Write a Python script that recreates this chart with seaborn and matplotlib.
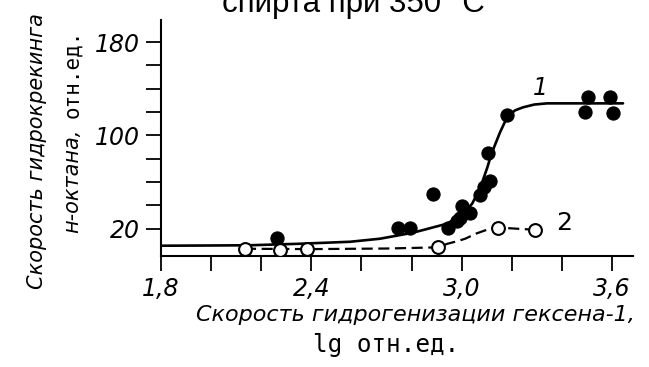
import matplotlib
matplotlib.use('Agg')
import matplotlib.pyplot as plt
import seaborn as sns

# curve 1: smooth line drawn through the filled points
curve1_x = [1.80, 2.00, 2.155, 2.355, 2.555, 2.674, 2.806, 2.942, 3.006, 3.042,
            3.073, 3.101, 3.121, 3.153, 3.181, 3.213, 3.245, 3.29, 3.341, 3.473, 3.644]
curve1_y = [5.4, 5.6, 5.8, 7.1, 8.8, 11.4, 16.6, 24.3, 32.9, 41.5,
            54.4, 71.6, 85.4, 102.6, 115.5, 121.5, 124.1, 126.5, 127.5, 127.5, 127.5]
# filled points of series 1
points1_x = [2.263, 2.745, 2.795, 2.886, 2.946, 2.982, 2.994, 3.002, 3.034,
             3.075, 3.09, 3.115, 3.105, 3.181, 3.493, 3.505, 3.592, 3.604]
points1_y = [12.0, 21.0, 21.0, 50.0, 21.0, 27.0, 29.5, 39.8, 33.8,
             49.0, 56.0, 61.0, 85.0, 117.5, 120.0, 133.0, 133.0, 119.0]

# curve 2: dashed line and open circles
curve2_x = [2.135, 2.40, 2.70, 2.906, 2.942, 2.986, 3.014, 3.06, 3.101, 3.145, 3.22, 3.293]
curve2_y = [2.8, 2.5, 3.0, 4.0, 7.0, 9.5, 11.4, 16.0, 19.1, 21.0, 20.0, 19.1]
points2_x = [2.135, 2.275, 2.383, 2.906, 3.145, 3.293]
points2_y = [2.8, 2.0, 2.2, 4.5, 21.0, 19.1]

x_major = [1.8, 2.4, 3.0, 3.6]
x_labels = ['1,8', '2,4', '3,0', '3,6']
x_minor = [2.0, 2.2, 2.6, 2.8, 3.2, 3.4]
y_major = [20, 100, 180]
y_labels = ['20', '100', '180']
y_minor = [40, 60, 80, 120, 140, 160]

sns.set_theme(style='ticks')
plt.rcParams['font.family'] = ['DejaVu Sans']
plt.rcParams['text.color'] = 'black'

fig = plt.figure(figsize=(6.49, 3.67), dpi=100)
fig.patch.set_facecolor('white')
ax = fig.add_axes([0.2481, 0.3025, 0.7273, 0.643])
ax.set_facecolor('white')

sns.lineplot(x=curve1_x, y=curve1_y, ax=ax, color='black', linewidth=1.9)
sns.lineplot(x=curve2_x, y=curve2_y, ax=ax, color='black', linewidth=1.6,
             linestyle=(0, (5, 2.5)))
sns.scatterplot(x=points1_x, y=points1_y, ax=ax, color='black', edgecolor='black',
                s=90, linewidth=0.8, zorder=3)
sns.scatterplot(x=points2_x, y=points2_y, ax=ax, color='white', edgecolor='black',
                s=85, linewidth=1.5, zorder=3)

# curve numbers
ax.text(3.313, 141, '1', fontsize=17, fontstyle='italic', ha='center', va='center')
ax.text(3.409, 25, '2', fontsize=18, ha='center', va='center')

ax.set_xlim(1.8, 3.684)
ax.set_ylim(-3.4, 199)
ax.set_xticks(x_major)
ax.set_xticklabels(x_labels, fontsize=17, fontstyle='italic')
ax.set_xticks(x_minor, minor=True)
ax.set_yticks(y_major)
ax.set_yticklabels(y_labels, fontsize=17, fontstyle='italic')
ax.set_yticks(y_minor, minor=True)
ax.tick_params(axis='both', which='both', direction='out', length=11, width=1.3,
               color='black', labelcolor='black', bottom=True, left=True)
ax.tick_params(axis='x', which='both', pad=4)
ax.tick_params(axis='y', which='both', pad=4)
ax.set_xlabel('')
ax.set_ylabel('')

sns.despine(ax=ax)
for side in ['left', 'bottom']:
    ax.spines[side].set_linewidth(1.5)
    ax.spines[side].set_color('black')

# axis titles
fig.text(0.6394, 0.1420, 'Скорость гидрогенизации гексена-1,', fontsize=16,
         fontstyle='italic', ha='center', va='center')
fig.text(0.5948, 0.0600, 'lg отн.ед.', fontsize=17.5, family='DejaVu Sans Mono',
         ha='center', va='center')
fig.text(0.057, 0.5872, 'Скорость гидрокрекинга', fontsize=15, fontstyle='italic',
         rotation=90, ha='center', va='center')
fig.text(0.111, 0.365, 'н-октана,', fontsize=15, fontstyle='italic',
         rotation=90, ha='center', va='bottom')
fig.text(0.111, 0.918, 'отн.ед.', fontsize=15, family='DejaVu Sans Mono',
         rotation=90, ha='center', va='top')

# title, only its last line shows at the top edge
fig.text(0.5447, 0.966, 'спирта при 350 °C', fontsize=22.5, family='Liberation Sans',
         ha='center', va='baseline')

fig.savefig('out.png', dpi=100)
